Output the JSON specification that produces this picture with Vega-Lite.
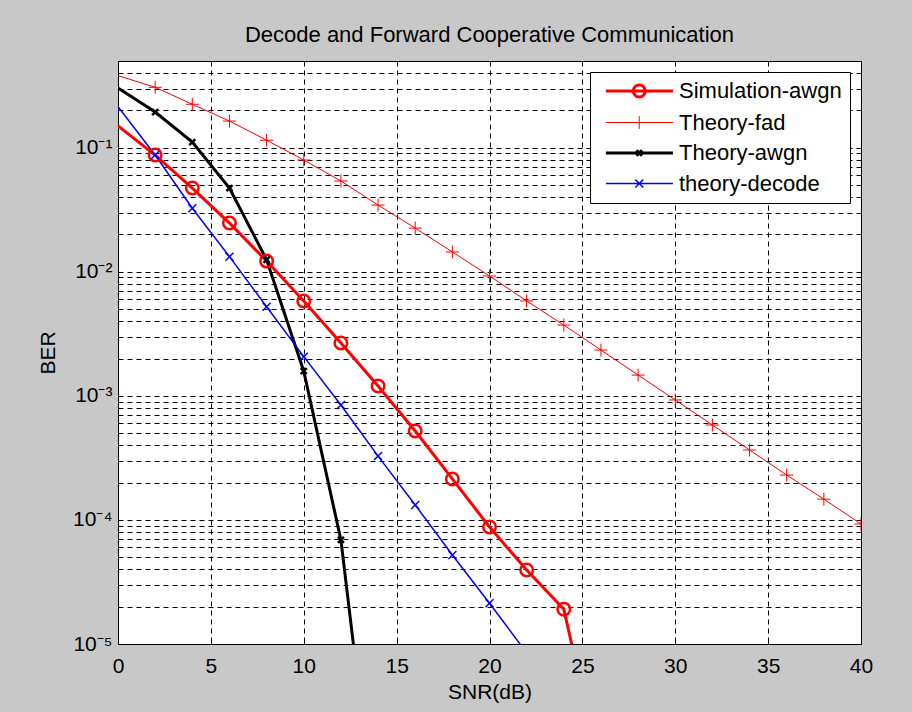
{
  "$schema": "https://vega.github.io/schema/vega-lite/v6.json",
  "width": 743,
  "height": 583,
  "autosize": {"type": "none"},
  "padding": {"left": 118, "top": 61, "right": 51, "bottom": 68},
  "background": "#c8c8c8",
  "title": {
    "text": "Decode and Forward Cooperative Communication",
    "font": "Liberation Sans",
    "fontSize": 22,
    "fontWeight": "normal",
    "color": "black",
    "anchor": "middle",
    "baseline": "alphabetic",
    "offset": -3
  },
  "config": {
    "font": "Liberation Sans",
    "view": {"stroke": "black", "strokeWidth": 1, "fill": "white"},
    "axis": {
      "gridColor": "black",
      "gridDash": [5, 4],
      "gridWidth": 1,
      "gridOpacity": 1,
      "domain": false,
      "tickColor": "black",
      "tickWidth": 1,
      "labelFont": "Liberation Sans",
      "labelFontSize": 21,
      "labelColor": "black",
      "titleFont": "Liberation Sans",
      "titleFontSize": 21,
      "titleFontWeight": "normal",
      "titleColor": "black"
    }
  },
  "data": {
    "values": [
      {"series": "Simulation-awgn", "snr": 0, "ber": 0.15},
      {"series": "Simulation-awgn", "snr": 2, "ber": 0.0873},
      {"series": "Simulation-awgn", "snr": 4, "ber": 0.0473},
      {"series": "Simulation-awgn", "snr": 6, "ber": 0.0247},
      {"series": "Simulation-awgn", "snr": 8, "ber": 0.0122},
      {"series": "Simulation-awgn", "snr": 10, "ber": 0.00582},
      {"series": "Simulation-awgn", "snr": 12, "ber": 0.00267},
      {"series": "Simulation-awgn", "snr": 14, "ber": 0.0012},
      {"series": "Simulation-awgn", "snr": 16, "ber": 0.000521},
      {"series": "Simulation-awgn", "snr": 18, "ber": 0.000214},
      {"series": "Simulation-awgn", "snr": 20, "ber": 0.0000877},
      {"series": "Simulation-awgn", "snr": 22, "ber": 0.0000395},
      {"series": "Simulation-awgn", "snr": 24, "ber": 0.0000191},
      {"series": "Simulation-awgn", "snr": 26, "ber": 0.0000009},
      {"series": "Theory-fad", "snr": 0, "ber": 0.381},
      {"series": "Theory-fad", "snr": 2, "ber": 0.307},
      {"series": "Theory-fad", "snr": 4, "ber": 0.224},
      {"series": "Theory-fad", "snr": 6, "ber": 0.164},
      {"series": "Theory-fad", "snr": 8, "ber": 0.115},
      {"series": "Theory-fad", "snr": 10, "ber": 0.0796},
      {"series": "Theory-fad", "snr": 12, "ber": 0.0539},
      {"series": "Theory-fad", "snr": 14, "ber": 0.0345},
      {"series": "Theory-fad", "snr": 16, "ber": 0.0225},
      {"series": "Theory-fad", "snr": 18, "ber": 0.01445},
      {"series": "Theory-fad", "snr": 20, "ber": 0.00925},
      {"series": "Theory-fad", "snr": 22, "ber": 0.00582},
      {"series": "Theory-fad", "snr": 24, "ber": 0.00372},
      {"series": "Theory-fad", "snr": 26, "ber": 0.00234},
      {"series": "Theory-fad", "snr": 28, "ber": 0.00147},
      {"series": "Theory-fad", "snr": 30, "ber": 0.000927},
      {"series": "Theory-fad", "snr": 32, "ber": 0.000582},
      {"series": "Theory-fad", "snr": 34, "ber": 0.000366},
      {"series": "Theory-fad", "snr": 36, "ber": 0.00023},
      {"series": "Theory-fad", "snr": 38, "ber": 0.000147},
      {"series": "Theory-fad", "snr": 40, "ber": 0.0000927},
      {"series": "Theory-awgn", "snr": 0, "ber": 0.303},
      {"series": "Theory-awgn", "snr": 2, "ber": 0.194},
      {"series": "Theory-awgn", "snr": 4, "ber": 0.111},
      {"series": "Theory-awgn", "snr": 6, "ber": 0.0473},
      {"series": "Theory-awgn", "snr": 8, "ber": 0.0125},
      {"series": "Theory-awgn", "snr": 10, "ber": 0.00158},
      {"series": "Theory-awgn", "snr": 12, "ber": 0.000069},
      {"series": "Theory-awgn", "snr": 14, "ber": 0.00000022},
      {"series": "theory-decode", "snr": 0, "ber": 0.214},
      {"series": "theory-decode", "snr": 2, "ber": 0.0873},
      {"series": "theory-decode", "snr": 4, "ber": 0.0325},
      {"series": "theory-decode", "snr": 6, "ber": 0.01324},
      {"series": "theory-decode", "snr": 8, "ber": 0.00523},
      {"series": "theory-decode", "snr": 10, "ber": 0.00207},
      {"series": "theory-decode", "snr": 12, "ber": 0.000844},
      {"series": "theory-decode", "snr": 14, "ber": 0.000327},
      {"series": "theory-decode", "snr": 16, "ber": 0.000132},
      {"series": "theory-decode", "snr": 18, "ber": 0.0000521},
      {"series": "theory-decode", "snr": 20, "ber": 0.0000213},
      {"series": "theory-decode", "snr": 22, "ber": 0.0000085}
    ]
  },
  "encoding": {
    "x": {
      "field": "snr",
      "type": "quantitative",
      "scale": {"domain": [0, 40], "nice": false, "zero": false},
      "axis": {
        "title": "SNR(dB)",
        "values": [0, 5, 10, 15, 20, 25, 30, 35, 40],
        "format": "d",
        "tickSize": -6,
        "labelPadding": 17,
        "titlePadding": 5,
        "labelFlush": false
      }
    },
    "y": {
      "field": "ber",
      "type": "quantitative",
      "scale": {"type": "log", "domain": [0.00001, 0.5], "nice": false},
      "axis": {
        "title": "BER",
        "values": [0.00001, 0.00002, 0.00003, 0.00004, 0.00005, 0.00006, 0.00007, 0.00008, 0.00009,
                   0.0001, 0.0002, 0.0003, 0.0004, 0.0005, 0.0006, 0.0007, 0.0008, 0.0009,
                   0.001, 0.002, 0.003, 0.004, 0.005, 0.006, 0.007, 0.008, 0.009,
                   0.01, 0.02, 0.03, 0.04, 0.05, 0.06, 0.07, 0.08, 0.09,
                   0.1, 0.2, 0.3, 0.4],
        "labelExpr": "datum.value == 0.1 ? '10⁻¹' : datum.value == 0.01 ? '10⁻²' : datum.value == 0.001 ? '10⁻³' : datum.value == 0.0001 ? '10⁻⁴' : datum.value == 0.00001 ? '10⁻⁵' : ''",
        "tickSize": -4,
        "labelPadding": 10,
        "titlePadding": 14,
        "labelFlush": false
      }
    }
  },
  "layer": [
    {
      "mark": {"type": "line", "clip": true},
      "encoding": {
        "color": {
          "field": "series",
          "type": "nominal",
          "scale": {
            "domain": ["Simulation-awgn", "Theory-fad", "Theory-awgn", "theory-decode"],
            "range": ["#ff0000", "#ff0000", "#000000", "#0000ff"]
          },
          "legend": {
            "title": null,
            "orient": "top-right",
            "offset": 11,
            "fillColor": "white",
            "strokeColor": "black",
            "padding": 8,
            "labelFont": "Liberation Sans",
            "labelFontSize": 22,
            "labelColor": "black",
            "labelLimit": 400,
            "labelOffset": 59,
            "symbolSize": 256,
            "rowPadding": 8.5,
            "symbolOpacity": 1,
            "encode": {
              "symbols": {
                "update": {
                  "shape": {"signal": "datum.value == 'Simulation-awgn' ? 'M-0.39,0H7.99M3.03,0A0.75,0.75 0 1,0 4.53,0A0.75,0.75 0 1,0 3.03,0' : datum.value == 'Theory-fad' ? 'M-0.39,0H7.99M3.78,-0.8V0.8' : datum.value == 'Theory-awgn' ? 'M-0.39,0H7.99M3.43,-0.35L4.13,0.35M3.43,0.35L4.13,-0.35' : 'M-0.39,0H7.99M3.28,-0.5L4.28,0.5M3.28,0.5L4.28,-0.5'"},
                  "fill": {"value": "transparent"}
                }
              }
            }
          }
        },
        "strokeWidth": {
          "field": "series",
          "type": "nominal",
          "scale": {
            "type": "ordinal",
            "domain": ["Simulation-awgn", "Theory-fad", "Theory-awgn", "theory-decode"],
            "range": [3, 1, 3, 1.5]
          },
          "legend": null
        }
      }
    },
    {
      "transform": [{"filter": "datum.series == 'Simulation-awgn' && datum.snr > 0"}],
      "mark": {"type": "point", "clip": true, "filled": false, "opacity": 1, "shape": "circle", "size": 156, "strokeWidth": 2.5, "stroke": "#ff0000"}
    },
    {
      "transform": [{"filter": "datum.series == 'Theory-fad' && datum.snr > 0"}],
      "mark": {"type": "point", "clip": true, "filled": false, "opacity": 1, "shape": "M-1,0H1M0,-1V1", "size": 169, "strokeWidth": 1, "stroke": "#ff0000"}
    },
    {
      "transform": [{"filter": "datum.series == 'Theory-awgn' && datum.snr > 0"}],
      "mark": {"type": "point", "clip": true, "filled": false, "opacity": 1, "shape": "M-1,-1L1,1M-1,1L1,-1", "size": 36, "strokeWidth": 2.5, "stroke": "#000000"}
    },
    {
      "transform": [{"filter": "datum.series == 'theory-decode' && datum.snr > 0"}],
      "mark": {"type": "point", "clip": true, "filled": false, "opacity": 1, "shape": "M-1,-1L1,1M-1,1L1,-1", "size": 64, "strokeWidth": 1.5, "stroke": "#0000ff"}
    }
  ]
}
